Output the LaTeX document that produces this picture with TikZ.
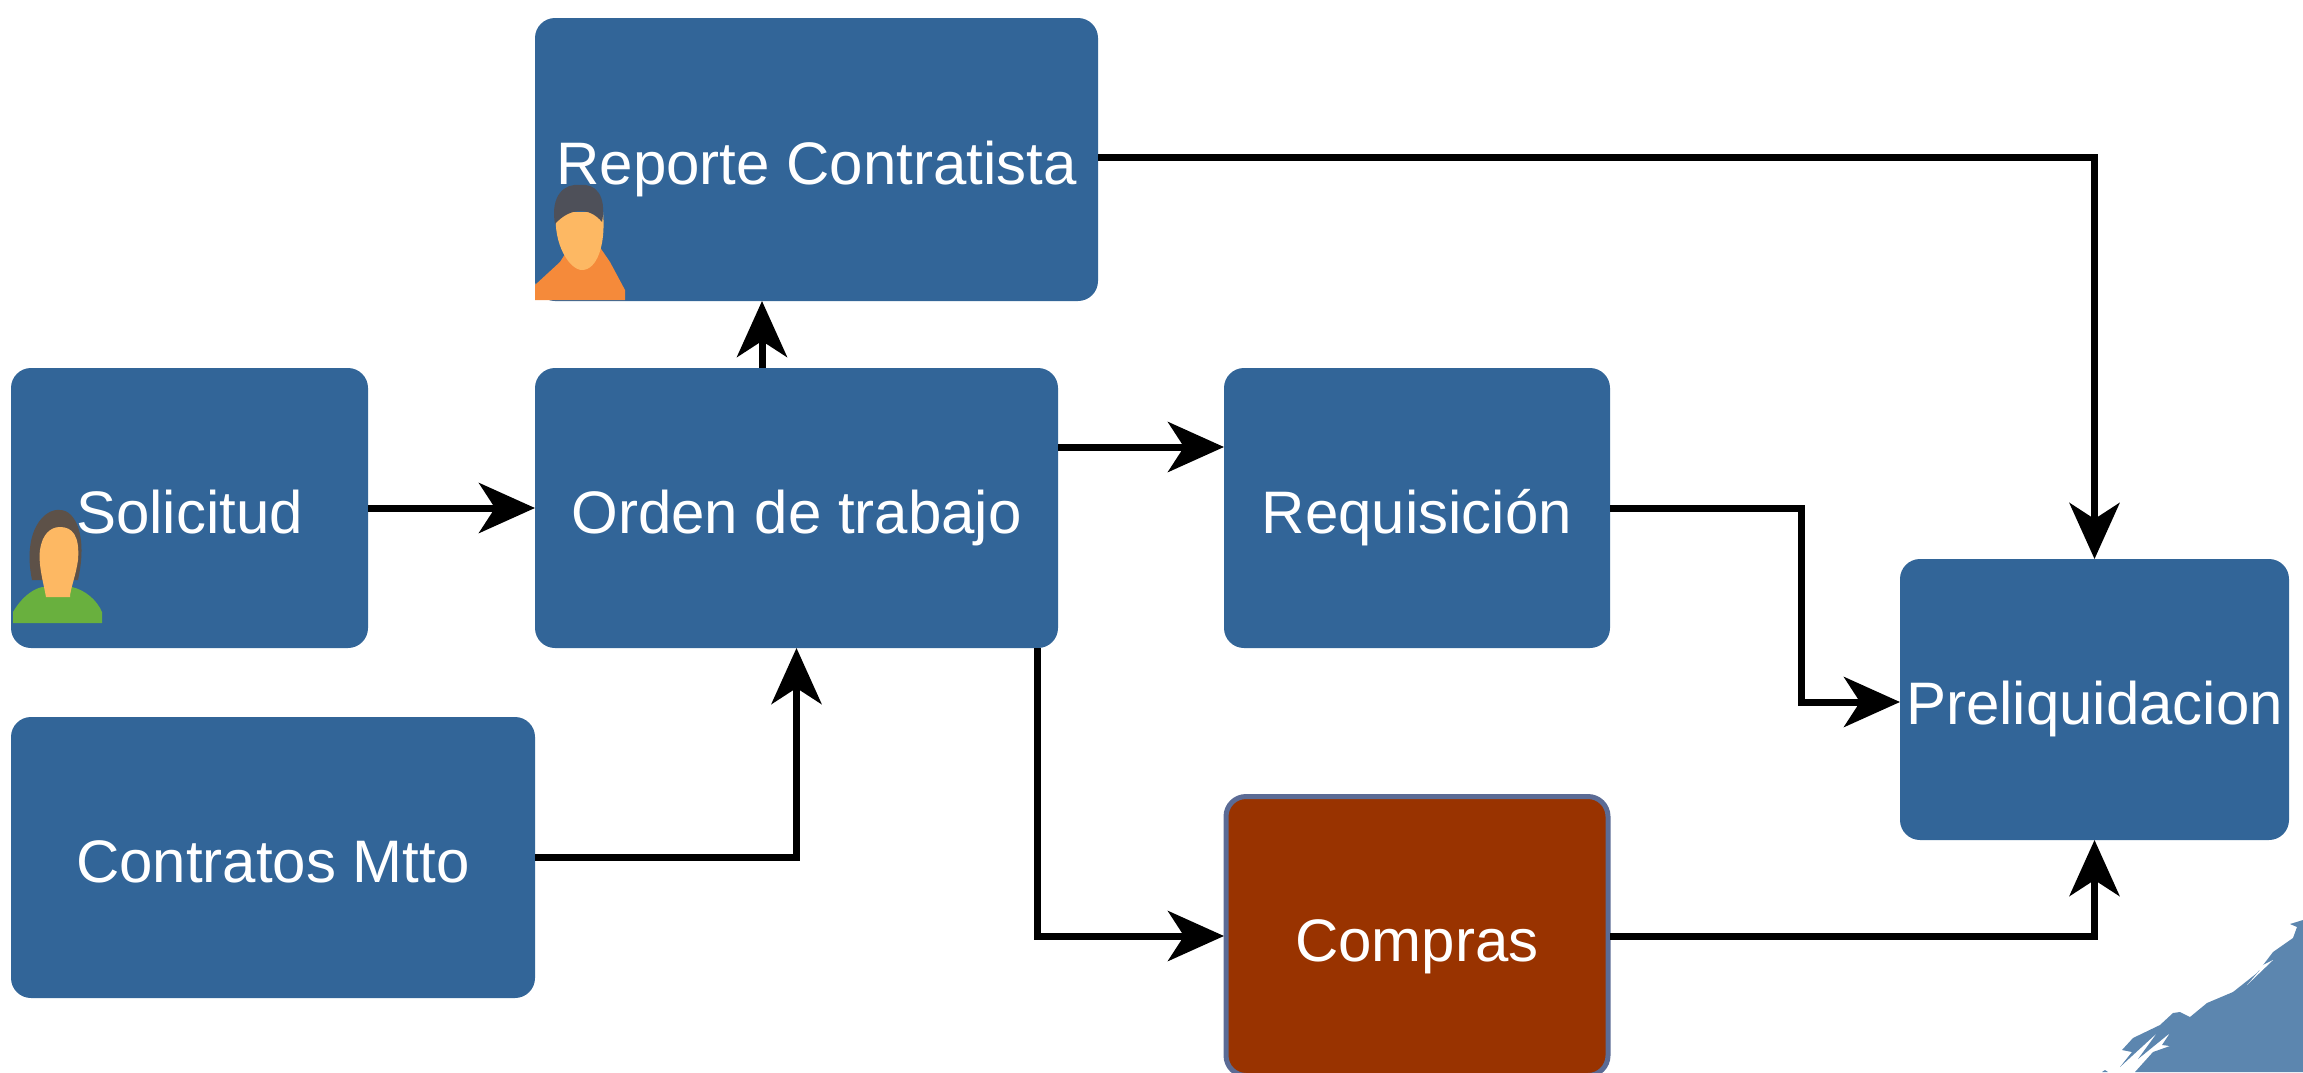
\documentclass[tikz,border=0pt]{standalone}
\usepackage{fontspec}
\setmainfont{Liberation Sans}
\usetikzlibrary{arrows.meta}
\definecolor{boxblue}{HTML}{326598}
\definecolor{brick}{HTML}{993300}
\definecolor{brickedge}{HTML}{5B6B95}
\definecolor{wing}{HTML}{5C86AF}
\definecolor{skin}{HTML}{FDB863}
\definecolor{hairgrey}{HTML}{4E5059}
\definecolor{hairbrown}{HTML}{5D5148}
\definecolor{vest}{HTML}{F58A3A}
\definecolor{shirt}{HTML}{69B03E}
\tikzset{
  x=0.5pt,y=-0.5pt,
  flowbox/.style={rectangle,rounded corners=10pt,fill=boxblue,
    inner sep=0pt,outer sep=0pt,text=white,font=\fontsize{30}{36}\selectfont,text height=28pt,text depth=3pt},
  alertbox/.style={flowbox,fill=brick,draw=brickedge,line width=2.5pt},
  flow/.style={line width=3.5pt,draw=black,-{Stealth[length=28pt,width=25pt,inset=8pt]}}
}
\begin{document}
\begin{tikzpicture}
\useasboundingbox (0,0) rectangle (2303,1072);
\node[flowbox,minimum width=281.5pt,minimum height=141.5pt] (rep) at (816.5,159.5) {Reporte Contratista};
\node[flowbox,minimum width=178.5pt,minimum height=140pt] (sol) at (189.5,508) {Solicitud};
\node[flowbox,minimum width=261.5pt,minimum height=140pt] (ord) at (796.5,508) {Orden de trabajo};
\node[flowbox,minimum width=193pt,minimum height=140pt] (req) at (1417,508) {Requisición};
\node[flowbox,minimum width=262pt,minimum height=140.5pt] (con) at (273,857.5) {Contratos Mtto};
\node[alertbox,minimum width=191pt,minimum height=139.5pt] (com) at (1417,936) {Compras};
\node[flowbox,minimum width=194.5pt,minimum height=140.5pt] (pre) at (2094.5,699.5) {Preliquidacion};

\coordinate (reqturn) at (1801,600);
\coordinate (ordout) at (1037,648);

\draw[flow] ([yshift=1pt]rep.east) -| (pre.north);
\draw[flow] (sol.east) -- (ord.west);
\draw[flow] ([xshift=-17.25pt]ord.north) -- ([xshift=-27.25pt]rep.south);
\draw[flow] ([yshift=30.5pt]ord.east) -- ([yshift=30.5pt]req.west);
\draw[flow] (req.east) -| (reqturn) |- ([yshift=-1.25pt]pre.west);
\draw[flow] (con.east) -| (ord.south);
\draw[flow] (ordout) |- ([xshift=-1pt]com.west);
\draw[flow] ([xshift=1pt]com.east) -| (pre.south);

% contractor icon
\fill[vest] (535,300) -- (535,285) -- (560,262) -- (572,243) -- (597,243) -- (610,262) -- (625,290) -- (625,300) -- cycle;
\fill[skin] (556,212) .. controls (553,245) and (570,270) .. (582,270) .. controls (597,270) and (606,245) .. (603,212) -- cycle;
\fill[hairgrey] (555,224) .. controls (550,195) and (565,183) .. (580,185) .. controls (595,183) and (607,195) .. (602,222) .. controls (590,207) and (570,207) .. (555,224) -- cycle;

% requester icon
\fill[hairbrown] (32,580) .. controls (22,530) and (45,508) .. (60,510) .. controls (75,510) and (88,535) .. (78,580) -- cycle;
\fill[shirt] (13,623) -- (13,612) .. controls (20,600) and (30,590) .. (42,587) -- (72,587) .. controls (85,590) and (97,600) .. (102,612) -- (102,623) -- cycle;
\fill[skin] (40,550) .. controls (42,535) and (50,527) .. (60,527) .. controls (72,527) and (80,535) .. (78,560) .. controls (76,575) and (70,590) .. (70,597) -- (46,597) .. controls (44,585) and (38,565) .. (40,550) -- cycle;

% corner wing
\fill[wing] (2303,920) -- (2290,924) -- (2297,927) -- (2293,938) -- (2273,952) -- (2257,973) -- (2233,992) -- (2207,1003) -- (2190,1017) -- (2180,1012) -- (2173,1013) -- (2160,1025) -- (2133,1038) -- (2122,1050) -- (2132,1052) -- (2120,1067) -- (2157,1033) -- (2138,1059) -- (2170,1033) -- (2162,1045) -- (2170,1046) -- (2153,1052) -- (2135,1072) -- (2303,1072) -- cycle;
\fill[white] (2273,960) -- (2253,970) -- (2260,970) -- (2247,985) -- cycle;
\fill[wing] (2102,1072) -- (2105,1070) -- (2108,1072) -- cycle;
\end{tikzpicture}
\end{document}
